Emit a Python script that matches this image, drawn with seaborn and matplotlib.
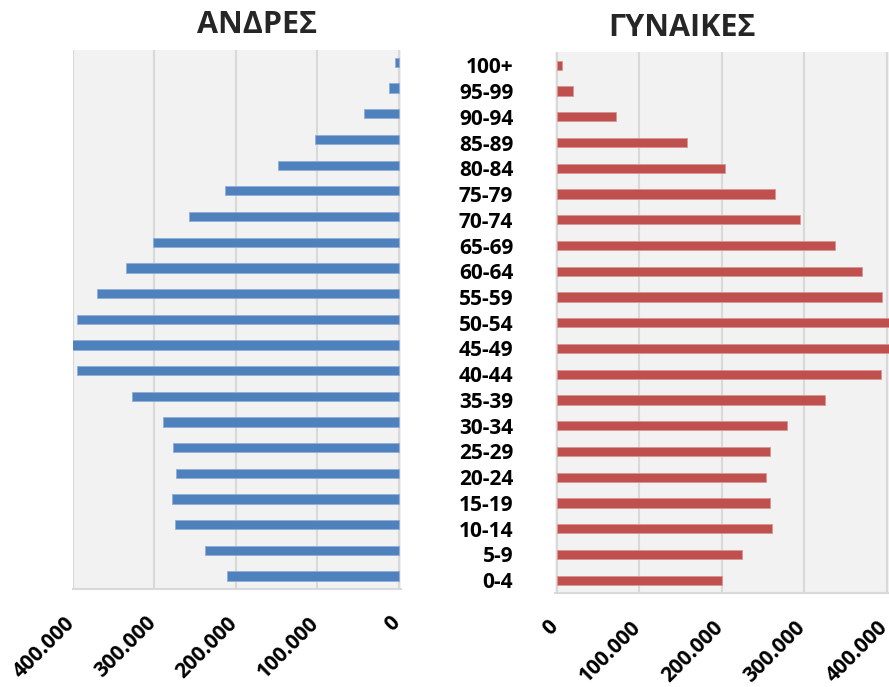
import matplotlib
matplotlib.use("Agg")
import matplotlib.pyplot as plt
import matplotlib.ticker as mticker
import matplotlib.transforms as mtransforms
import seaborn as sns
import pandas as pd

# age groups, top of the pyramid first
ages = ["100+", "95-99", "90-94", "85-89", "80-84", "75-79", "70-74",
        "65-69", "60-64", "55-59", "50-54", "45-49", "40-44", "35-39",
        "30-34", "25-29", "20-24", "15-19", "10-14", "5-9", "0-4"]

men = [4500, 12000, 43000, 103000, 148000, 213000, 257000,
       302000, 335000, 370000, 395000, 402000, 394500, 328000,
       290000, 277500, 274000, 278000, 275000, 237500, 211500]

women = [6000, 20000, 72500, 158000, 204000, 264500, 295500,
         338000, 370000, 394000, 408000, 408000, 393000, 326000,
         279000, 258500, 254000, 259000, 261000, 225000, 200000]

ticks = [0, 100000, 200000, 300000, 400000]

df = pd.DataFrame({"age": ages, "men": men, "women": women})

sns.set_theme(style="whitegrid")
plt.rcParams["font.family"] = ["Open Sans", "DejaVu Sans"]

BLUE = "#4F81BD"
RED = "#C0504D"
BG = "#F2F2F2"
GRID = "#D9D9D9"

fig = plt.figure(figsize=(8.89, 6.87), dpi=100)
ax1 = fig.add_axes([0.0821, 0.1428, 0.3690, 0.7850])
ax2 = fig.add_axes([0.6243, 0.1368, 0.3757, 0.7868])

sns.barplot(data=df, x="men", y="age", order=ages, ax=ax1, color=BLUE,
            width=0.36, saturation=1, edgecolor="#8FAEDA", linewidth=0.6)
sns.barplot(data=df, x="women", y="age", order=ages, ax=ax2, color=RED,
            width=0.36, saturation=1, edgecolor="#D99694", linewidth=0.6)

fmt = mticker.FuncFormatter(lambda v, p: f"{int(v):,}".replace(",", "."))
shift = mtransforms.ScaledTranslation(-9 / 100, 0, fig.dpi_scale_trans)

ax1.set_xlim(400000, -2800)
ax2.set_xlim(-2000, 403000)

for ax in (ax1, ax2):
    ax.set_facecolor(BG)
    ax.set_xticks(ticks)
    ax.xaxis.set_major_formatter(fmt)
    ax.grid(axis="x", color=GRID, linewidth=1.5)
    ax.grid(axis="y", visible=False)
    ax.set_axisbelow(True)
    ax.set_xlabel("")
    ax.set_ylabel("")
    ax.set_ylim(20.5, -0.5)
    for side in ("top", "left", "right"):
        ax.spines[side].set_visible(False)
    ax.spines["bottom"].set_color(GRID)
    ax.spines["bottom"].set_linewidth(1.5)
    ax.tick_params(axis="both", length=0)
    ax.tick_params(axis="x", pad=17)
    for lab in ax.get_xticklabels():
        lab.set_rotation(45)
        lab.set_ha("right")
        lab.set_va("top")
        lab.set_rotation_mode("anchor")
        lab.set_fontsize(15)
        lab.set_fontweight("bold")
        lab.set_color("black")
        lab.set_transform(lab.get_transform() + shift)

ax1.set_yticks([])
ax2.tick_params(axis="y", pad=30)
for lab in ax2.get_yticklabels():
    lab.set_fontsize(15)
    lab.set_fontweight("bold")
    lab.set_color("black")
    lab.set_ha("right")

fig.text(0.289, 0.952, "ΑΝΔΡΕΣ", ha="center", va="baseline",
         fontsize=22, fontweight="bold")
fig.text(0.767, 0.948, "ΓΥΝΑΙΚΕΣ", ha="center", va="baseline",
         fontsize=22, fontweight="bold")

fig.savefig("out.png", dpi=100, facecolor="white")
